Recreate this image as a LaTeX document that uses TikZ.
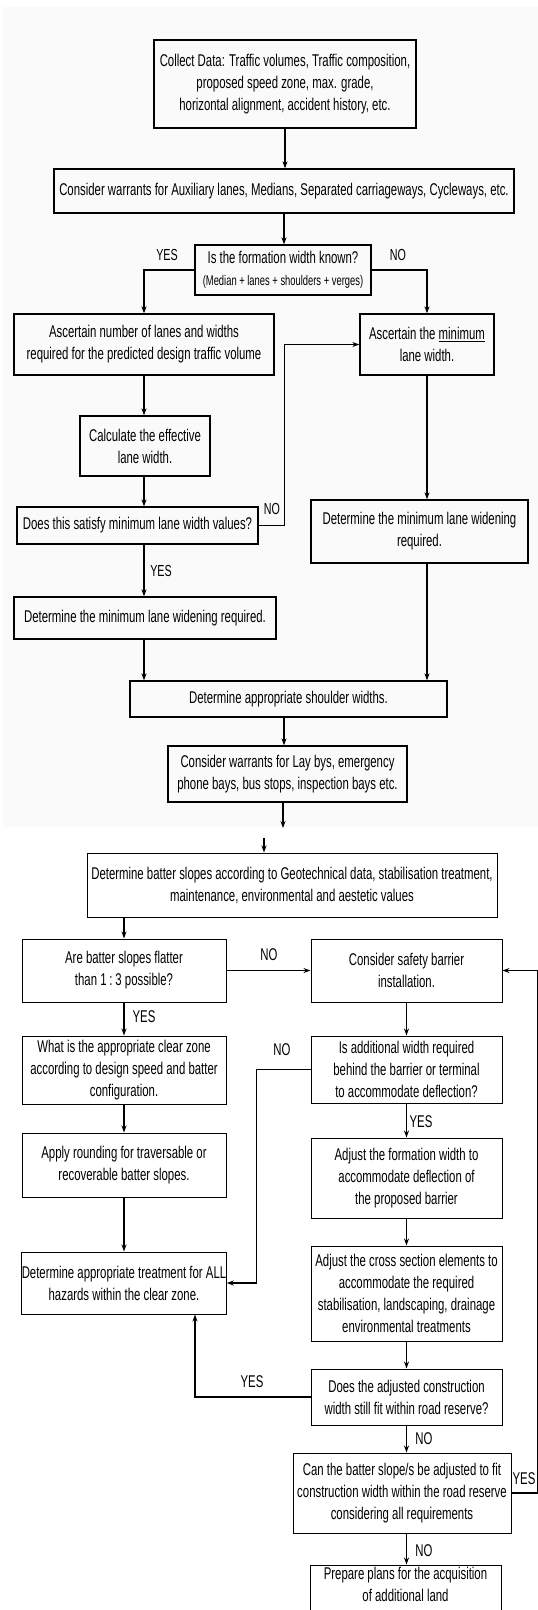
\documentclass[tikz,border=0pt]{standalone}
\usepackage{fontspec}
\setmainfont{Liberation Sans}
\newfontfamily\topfont[FakeStretch=0.67]{Liberation Sans}
\newfontfamily\botfont[FakeStretch=0.67]{Liberation Sans}
\usetikzlibrary{arrows.meta}
\newcommand\mybox[7]{\node[#2, minimum width={#4-#3}, minimum height={#6-#5}] (#1) at ({(#3+#4)/2},{(#5+#6)/2}) {#7};}
\tikzset{
  tbox/.style={draw, line width=1.3pt, inner sep=0pt, align=center, font=\topfont\fontsize{17}{22}\selectfont},
  bbox/.style={draw, line width=1pt, inner sep=0pt, align=center, font=\botfont\fontsize{17}{22}\selectfont},
  arr/.style={line width=1.2pt, -{Stealth[length=7pt,width=5pt]}},
  tlbl/.style={font=\topfont\fontsize{16}{16}\selectfont},
  blbl/.style={font=\botfont\fontsize{17}{17}\selectfont}
}
\begin{document}
\begin{tikzpicture}[x=1pt,y=-1pt]
\useasboundingbox (0,0) rectangle (538,1610);
\clip (0,0) rectangle (538,1610);
\fill[gray!4] (3,7) rectangle (538,827);

% top section
\mybox{collect}{tbox}{154}{416}{40}{128}{Collect Data: Traffic volumes, Traffic composition,\\proposed speed zone, max. grade,\\horizontal alignment, accident history, etc.}
\mybox{warr}{tbox}{54}{514}{169}{213}{Consider warrants for Auxiliary lanes, Medians, Separated carriageways, Cycleways, etc.}
\mybox{form}{tbox}{195}{371}{245}{295}{Is the formation width known?\\{\fontsize{14}{16}\selectfont (Median + lanes + shoulders + verges)}}
\mybox{ascN}{tbox}{14}{274}{314}{375}{Ascertain number of lanes and widths\\required for the predicted design traffic volume}
\mybox{ascM}{tbox}{360}{494}{314}{375}{Ascertain the \underline{minimum}\\lane width.}
\mybox{calc}{tbox}{80}{210}{416}{476}{Calculate the effective\\lane width.}
\mybox{sat}{tbox}{17}{258}{507}{544}{Does this satisfy minimum lane width values?}
\mybox{minR}{tbox}{311}{528}{500}{563}{Determine the minimum lane widening\\required.}
\mybox{minL}{tbox}{14}{276}{597}{639}{Determine the minimum lane widening required.}
\mybox{shoulder}{tbox}{130}{447}{681}{717}{Determine appropriate shoulder widths.}
\mybox{lay}{tbox}{168}{407}{746}{802}{Consider warrants for Lay bys, emergency\\phone bays, bus stops, inspection bays etc.}

\draw[arr] (collect.south) -- (warr.north -| collect.south);
\draw[arr] (warr.south) -- (form.north -| warr.south);
\draw[arr] (form.west) -| (ascN.north);
\draw[arr] (form.east) -| (ascM.north);
\draw[arr] (ascN.south) -- (calc.north -| ascN.south);
\draw[arr] (calc.south -| ascN.south) -- (sat.north -| ascN.south);
\draw[arr] (sat.east) -- ++(26,0) |- (ascM.west);
\draw[arr] (sat.south -| ascN.south) -- (minL.north -| ascN.south);
\draw[arr] (ascM.south) -- (minR.north -| ascM.south);
\draw[arr] (minL.south -| ascN.south) -- (shoulder.north -| ascN.south);
\draw[arr] (minR.south -| ascM.south) -- (shoulder.north -| ascM.south);
\draw[arr] (shoulder.south -| warr.south) -- (lay.north -| warr.south);
\coordinate (dangle) at (283,828);
\draw[arr] (lay.south -| dangle) -- (dangle);

\node[tlbl] (ly1) at (167,255) {YES};
\node[tlbl] (ln1) at (398,255) {NO};
\node[tlbl] (ln2) at (272,509) {NO};
\node[tlbl] (ly2) at (161,571) {YES};

% bottom section
\mybox{batter}{bbox}{87}{497}{853}{917}{Determine batter slopes according to Geotechnical data, stabilisation treatment,\\maintenance, environmental and aestetic values}
\mybox{areb}{bbox}{22}{226}{939}{1002}{Are batter slopes flatter\\than 1\,:\,3 possible?}
\mybox{safety}{bbox}{311}{502}{939}{1002}{Consider safety barrier\\installation.}
\mybox{whatis}{bbox}{22}{226}{1036}{1104}{What is the appropriate clear zone\\according to design speed and batter\\configuration.}
\mybox{isadd}{bbox}{311}{502}{1036}{1103}{Is additional width required\\behind the barrier or terminal\\to accommodate deflection?}
\mybox{apply}{bbox}{22}{226}{1133}{1197}{Apply rounding for traversable or\\recoverable batter slopes.}
\mybox{adjf}{bbox}{311}{502}{1138}{1218}{Adjust the formation width to\\accommodate deflection of\\the proposed barrier}
\mybox{treat}{bbox}{22}{226}{1252}{1314}{Determine appropriate treatment for ALL\\hazards within the clear zone.}
\mybox{adjc}{bbox}{311}{502}{1246}{1341}{Adjust the cross section elements to\\accommodate the required\\stabilisation, landscaping, drainage\\environmental treatments}
\mybox{doesadj}{bbox}{311}{502}{1369}{1425}{Does the adjusted construction\\width still fit within road reserve?}
\mybox{can}{bbox}{293}{511}{1453}{1533}{Can the batter slope/s be adjusted to fit\\construction width within the road reserve\\considering all requirements}
\mybox{prep}{bbox}{310}{501}{1565}{1640}{Prepare plans for the acquisition\\of additional land\\[14pt]}

\coordinate (bstart) at (264,838);
\draw[arr] (bstart) -- (batter.north -| bstart);
\draw[arr] (batter.south -| areb.north) -- (areb.north);
\draw[arr] (areb.east) -- (safety.west);
\draw[arr] (areb.south) -- (whatis.north);
\draw[arr] (safety.south) -- (isadd.north);
\draw[arr] (whatis.south) -- (apply.north);
\draw[arr] (apply.south) -- (treat.north);
\draw[arr] (isadd.west) -- ++(-54,0) |- (treat.east);
\draw[arr] (isadd.south) -- (adjf.north);
\draw[arr] (adjf.south) -- (adjc.north);
\draw[arr] (adjc.south) -- (doesadj.north);
\draw[arr] (doesadj.west) -| ([xshift=71pt]treat.south);
\draw[arr] (doesadj.south) -- (can.north -| doesadj.south);
\draw[arr] (can.east) -- ++(26,0) |- (safety.east);
\draw[arr] (can.south -| doesadj.south) -- (prep.north -| doesadj.south);

\node[blbl] (bn1) at (269,955) {NO};
\node[blbl] (by1) at (144,1017) {YES};
\node[blbl] (bn2) at (282,1050) {NO};
\node[blbl] (by2) at (421,1122) {YES};
\node[blbl] (by3) at (252,1382) {YES};
\node[blbl] (bn3) at (424,1439) {NO};
\node[blbl] (by4) at (524,1479) {YES};
\node[blbl] (bn4) at (424,1551) {NO};
\end{tikzpicture}
\end{document}
